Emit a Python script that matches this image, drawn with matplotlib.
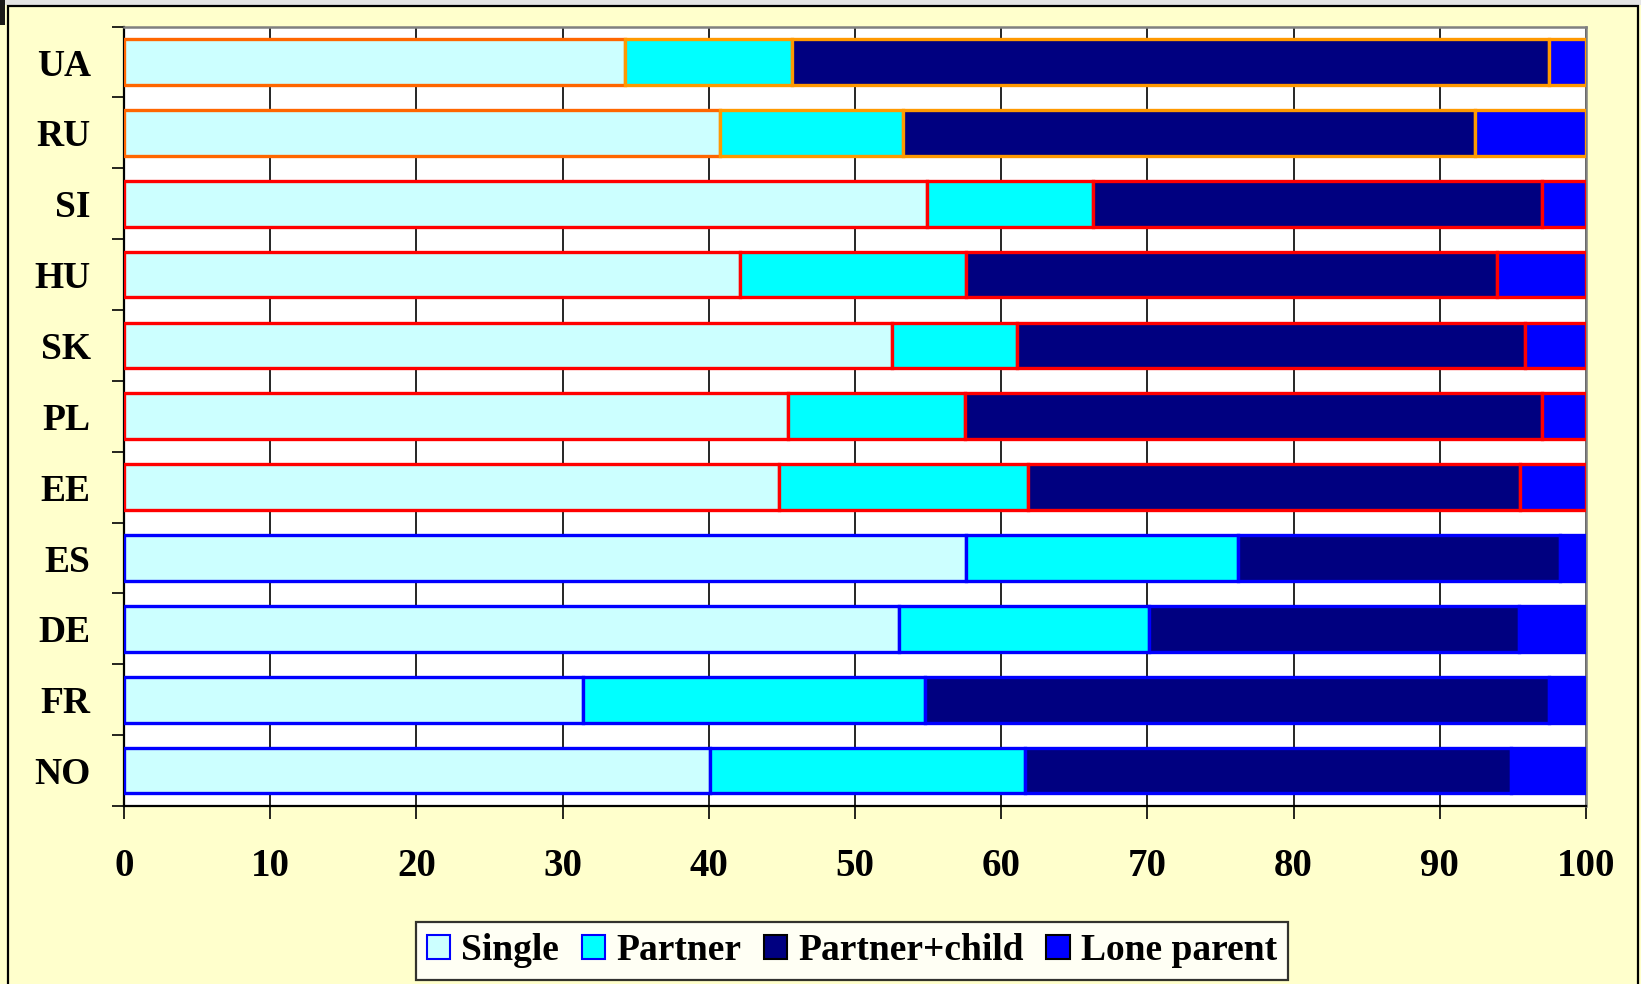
import matplotlib
matplotlib.use("Agg")
import matplotlib.pyplot as plt
import numpy as np
from matplotlib.patches import Patch, Rectangle

# Countries, top to bottom
countries = ["UA", "RU", "SI", "HU", "SK", "PL", "EE", "ES", "DE", "FR", "NO"]
# Country group: 0 = CIS, 1 = new EU members, 2 = old EU / Nordic
groups = [0, 0, 1, 1, 1, 1, 1, 2, 2, 2, 2]

# Household position shares (%)
single        = [34.3, 40.8, 54.9, 42.1, 52.5, 45.4, 44.8, 57.6, 53.0, 31.4, 40.1]
partner       = [11.4, 12.5, 11.4, 15.5,  8.6, 12.1, 17.0, 18.6, 17.1, 23.4, 21.5]
partner_child = [51.8, 39.1, 30.7, 36.3, 34.7, 39.5, 33.7, 22.0, 25.3, 42.7, 33.3]
lone_parent   = [ 2.5,  7.6,  3.0,  6.1,  4.2,  3.0,  4.5,  1.8,  4.6,  2.5,  5.1]

series_names = ["Single", "Partner", "Partner+child", "Lone parent"]
fills = ["#CCFFFF", "#00FFFF", "#000080", "#0000FF"]

first_edge = {0: "#FF6600", 1: "#FF0000", 2: "#0000FF"}
other_edge = {0: "#FF9900", 1: "#FF0000", 2: "#0000FF"}

FONT = "Liberation Serif"
plt.rcParams["font.family"] = [FONT, "DejaVu Serif"]
plt.rcParams["font.weight"] = "bold"

W, H = 1641, 984
fig = plt.figure(figsize=(W / 100, H / 100), dpi=100, facecolor="#FFFFCC")

# slide frame
fig.patches.append(Rectangle((0, 1 - 5 / H), 1, 5 / H, transform=fig.transFigure,
                             facecolor="#E4E4E4", edgecolor="none", zorder=0))
fig.patches.append(Rectangle((7.5 / W, -0.01), (1638 - 7.5) / W, 1 - 5.5 / H + 0.01,
                             transform=fig.transFigure, facecolor="none",
                             edgecolor="black", linewidth=1.6, zorder=1))
grad_ax = fig.add_axes([0, 1 - 4 / H, 110 / W, 4 / H])
grad = np.linspace(0, 1, 256)[None, :]
grad_ax.imshow(grad, aspect="auto", cmap=matplotlib.colors.LinearSegmentedColormap.from_list(
    "g", ["#2020B0", "#E4E4E4"]))
grad_ax.axis("off")
fig.patches.append(Rectangle((0, 1 - 25 / H), 5 / W, 25 / H, transform=fig.transFigure,
                             facecolor="#1A1A1A", edgecolor="none", zorder=2))

ax = fig.add_axes([124 / W, 1 - 806 / H, (1586 - 124) / W, (806 - 26.6) / H])
ax.set_facecolor("white")

y = np.arange(len(countries))
bar_h = 0.645
data = [single, partner, partner_child, lone_parent]
left = np.zeros(len(countries))
for k, (vals, fc) in enumerate(zip(data, fills)):
    vals = np.array(vals)
    edges = [first_edge[g] if k == 0 else other_edge[g] for g in groups]
    ax.barh(y, vals, left=left, height=bar_h, color=fc, edgecolor=edges,
            linewidth=2.4, zorder=3)
    left += vals

ax.set_xlim(0, 100)
ax.set_ylim(len(countries) - 0.5, -0.5)

ax.set_xticks(np.arange(0, 101, 10))
ax.set_xticklabels([str(v) for v in range(0, 101, 10)], fontsize=28,
                   fontweight="bold", family=FONT)
ax.tick_params(axis="x", direction="out", length=9, width=1.2, color="black", pad=21)

ax.set_yticks(y)
ax.set_yticklabels(countries, fontsize=27, fontweight="bold", family=FONT)
ax.tick_params(axis="y", which="major", length=0, pad=24)
ax.set_yticks(np.arange(-0.5, len(countries) + 0.5, 1), minor=True)
ax.tick_params(axis="y", which="minor", direction="out", length=9, width=1.2, color="black")

ax.grid(axis="x", color="black", linewidth=1.2, zorder=1)
ax.set_axisbelow(True)

for side in ["top", "right"]:
    ax.spines[side].set_color("#808080")
    ax.spines[side].set_linewidth(1.8)
for side in ["left", "bottom"]:
    ax.spines[side].set_color("black")
    ax.spines[side].set_linewidth(1.6)

handle_edges = ["#0000FF", "#0000FF", "black", "black"]
handles = [Patch(facecolor=fc, edgecolor=ec, linewidth=1.5)
           for fc, ec in zip(fills, handle_edges)]
leg = fig.legend(handles, series_names, loc="center", bbox_to_anchor=(852 / W, 1 - 951 / H),
                 ncol=4, frameon=True, fancybox=False, edgecolor="black",
                 prop={"family": FONT, "weight": "bold", "size": 27},
                 handlelength=0.62, handleheight=0.62, handletextpad=0.3,
                 columnspacing=0.6, borderpad=0.3, borderaxespad=0)
leg.get_frame().set_linewidth(1.6)
leg.get_frame().set_facecolor("white")

fig.savefig("out.png", dpi=100, facecolor=fig.get_facecolor())
